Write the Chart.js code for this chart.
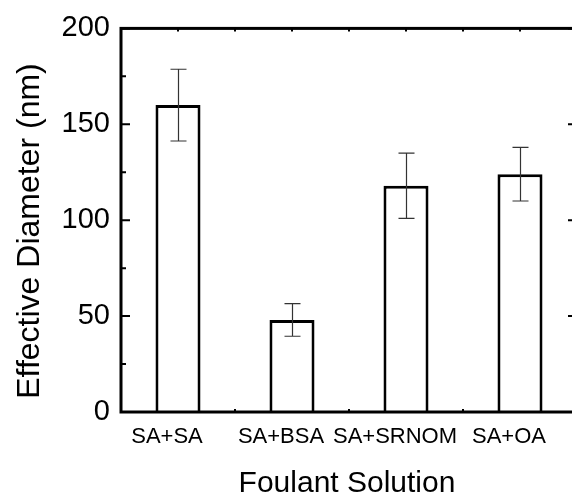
<!DOCTYPE html>
<html>
<head>
<meta charset="utf-8">
<script src="https://cdn.jsdelivr.net/npm/chart.js@4.4.0/dist/chart.umd.min.js"></script>
<style>
  html, body { margin: 0; padding: 0; background: #fff; overflow: hidden; }
  #wrap { width: 572px; height: 495px; overflow: hidden; }
</style>
</head>
<body>
<div id="wrap"><canvas id="chart" width="580" height="495"></canvas></div>
<script>
// foulant pairs and measured effective diameters (nm)
const categories = ['SA+SA', 'SA+BSA', 'SA+SRNOM', 'SA+OA'];
const diameters = [160, 48, 118, 124];
const errors = [18.7, 8.5, 17, 14];
const yTicks = [0, 50, 100, 150, 200];
const yMinorTicks = [25, 75, 125, 175];

const FONT = 'Liberation Sans, Arial, Helvetica, sans-serif';

// error bars on top of each bar
const errorBars = {
  id: 'errorBars',
  afterDatasetsDraw(chart) {
    const ctx = chart.ctx;
    const y = chart.scales.y;
    const meta = chart.getDatasetMeta(0);
    ctx.save();
    ctx.strokeStyle = '#333';
    ctx.lineWidth = 1.2;
    meta.data.forEach((bar, i) => {
      const x = Math.round(bar.x) + 0.5;
      const top = y.getPixelForValue(diameters[i] + errors[i]);
      const bot = y.getPixelForValue(diameters[i] - errors[i]);
      ctx.beginPath();
      ctx.moveTo(x, top); ctx.lineTo(x, bot);
      ctx.moveTo(x - 8, top); ctx.lineTo(x + 8, top);
      ctx.moveTo(x - 8, bot); ctx.lineTo(x + 8, bot);
      ctx.stroke();
    });
    ctx.restore();
  }
};

// box frame with inward ticks, plus axis titles
const frame = {
  id: 'frame',
  afterDraw(chart) {
    const { ctx, chartArea: a } = chart;
    const x = chart.scales.x, y = chart.scales.y;
    ctx.save();
    ctx.strokeStyle = '#000';
    ctx.lineWidth = 2;
    ctx.beginPath();
    yTicks.forEach(v => {
      const p = y.getPixelForValue(v);
      ctx.moveTo(a.left, p); ctx.lineTo(a.left + 9, p);
      ctx.moveTo(a.right, p); ctx.lineTo(a.right - 9, p);
    });
    yMinorTicks.forEach(v => {
      const p = y.getPixelForValue(v);
      ctx.moveTo(a.left, p); ctx.lineTo(a.left + 5, p);
      ctx.moveTo(a.right, p); ctx.lineTo(a.right - 5, p);
    });
    categories.forEach((c, i) => {
      const p = x.getPixelForValue(i);
      ctx.moveTo(p, a.top); ctx.lineTo(p, a.top + 3);
      if (i < categories.length - 1) {
        const m = x.getPixelForValue(i + 0.5);
        ctx.moveTo(m, a.top); ctx.lineTo(m, a.top + 3);
        ctx.moveTo(m, a.bottom); ctx.lineTo(m, a.bottom - 3);
      }
    });
    ctx.stroke();

    ctx.lineWidth = 3;
    ctx.strokeRect(a.left, a.top, a.right - a.left, a.bottom - a.top);

    ctx.fillStyle = '#000';
    ctx.textAlign = 'center';
    ctx.textBaseline = 'alphabetic';
    ctx.font = '30px ' + FONT;
    ctx.fillText('Foulant Solution', (a.left + a.right) / 2 - 2, 492);
    ctx.translate(39, 231);
    ctx.rotate(-Math.PI / 2);
    ctx.font = '32px ' + FONT;
    ctx.fillText('Effective Diameter (nm)', 0, 0);
    ctx.restore();
  }
};

new Chart(document.getElementById('chart'), {
  type: 'bar',
  data: {
    labels: categories,
    datasets: [{
      data: diameters,
      backgroundColor: '#fff',
      borderColor: '#000',
      borderWidth: 3,
      barPercentage: 0.395,
      categoryPercentage: 1
    }]
  },
  options: {
    responsive: false,
    animation: false,
    layout: { padding: { top: 27, right: 3, left: 0, bottom: 0 } },
    plugins: {
      legend: { display: false },
      tooltip: { enabled: false }
    },
    scales: {
      x: {
        grid: { display: false, drawTicks: false },
        border: { display: false },
        ticks: {
          color: '#000',
          font: { family: FONT, size: 22 },
          padding: 12,
          labelOffset: -11,
          maxRotation: 0,
          autoSkip: false
        },
        afterFit(scale) { scale.height = 83; }
      },
      y: {
        min: 0,
        max: 200,
        grid: { display: false, drawTicks: false },
        border: { display: false },
        ticks: {
          stepSize: 50,
          color: '#000',
          font: { family: FONT, size: 29 },
          padding: 11
        },
        afterFit(scale) { scale.width = 121; }
      }
    }
  },
  plugins: [errorBars, frame]
});
</script>
</body>
</html>
